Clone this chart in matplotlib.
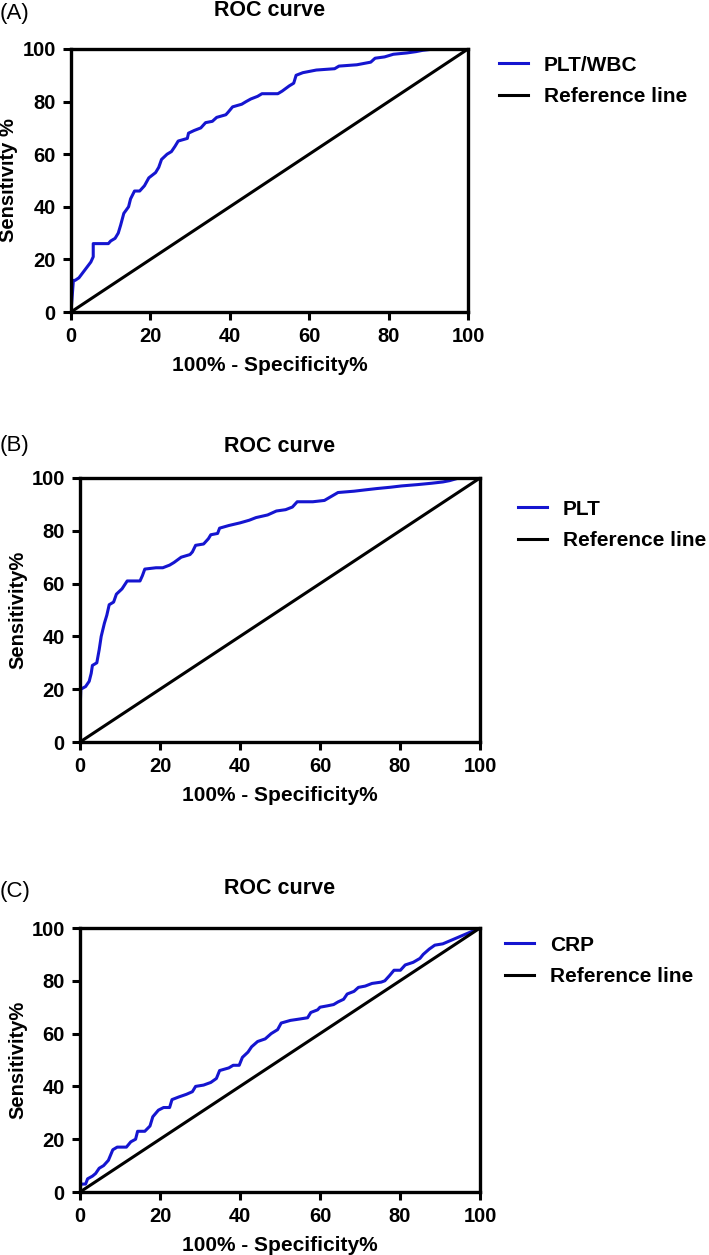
import matplotlib
matplotlib.use("Agg")
import matplotlib.pyplot as plt

# ROC data (x = 100% - specificity, y = sensitivity)
plt_wbc_x = [0, 0.3, 0.6, 1, 2, 3, 4, 5, 5.6, 5.6, 9.4, 10, 11.1, 11.9, 12.5, 13.3, 14.5, 15, 16,
             17.3, 18.5, 19.6, 21.3, 22.1, 22.8, 24.2, 25.3, 26.2, 27, 29.3, 29.6, 31, 32.7,
             33.9, 35.6, 36.7, 39, 39.6, 40.7, 43, 44.1, 45.3, 47, 48.1, 52.1, 53.2, 55, 56.1,
             56.7, 58.4, 61.8, 66.4, 67.5, 72, 75.5, 76.6, 79, 81.2, 84.6, 86.9, 88.6, 91.4, 100]
plt_wbc_y = [0, 6, 12, 12, 13, 15, 17, 19, 21, 26, 26, 27, 28, 30, 33, 37.5, 40, 43, 46,
             46, 48, 51, 53, 55, 58, 60, 61, 63, 65, 66, 68, 69, 70,
             72, 72.5, 74, 75, 76, 78, 79, 80, 81, 82, 83, 83, 84, 86, 87,
             90, 91, 92, 92.5, 93.5, 94, 95, 96.5, 97, 98, 98.5, 99, 99.5, 100, 100]

plt_x = [0, 0, 0.2, 1.4, 2.3, 2.8, 3.1, 4.2, 4.8, 5.3, 6.1, 6.7, 7.3, 8.4, 9.1, 10.5, 11.8, 15,
         15.6, 16.2, 19, 20.7, 22.4, 23.5, 25.3, 27.5, 28.1, 28.9, 30.9, 32.1, 32.7, 34.4,
         34.9, 37.2, 40, 42.3, 44, 46.9, 49.1, 51.4, 53.1, 54.3, 58.2, 61.1, 62.8, 64.5, 68.5,
         71.3, 74.2, 77.6, 80.4, 84.4, 87.8, 90.7, 92.4, 94.7, 100]
plt_y = [0, 11, 20, 21, 23, 26, 29, 30, 35, 40, 45, 48, 52, 53, 56, 58, 61, 61,
         63, 65.5, 66, 66, 67, 68, 70, 71, 72, 74.5, 75, 77, 78.5, 79,
         81, 82, 83, 84, 85, 86, 87.5, 88, 89, 91, 91, 91.5, 93, 94.5, 95,
         95.5, 96, 96.5, 97, 97.5, 98, 98.5, 99, 100, 100]

crp_x = [0, 0.2, 1.4, 1.9, 3.1, 3.9, 4.8, 5.9, 7.1, 8.2, 9.3, 11.6, 12.7, 13.9, 14.4, 16.2, 17.5,
         18.2, 19.6, 20.9, 22.4, 23, 24.7, 26.6, 28.1, 28.9, 30.9, 32.7, 34.1, 34.9, 37.2, 38.3,
         39.8, 40.6, 42, 42.9, 44.4, 46.3, 47.8, 49.4, 50.3, 52.6, 54.8, 56.9, 57.7, 59.4, 60,
         61.8, 63.4, 64.5, 65.9, 66.8, 68.5, 69.6, 71.3, 73, 75.3, 76.2, 77.4, 78.5, 80.1, 81.3,
         83.3, 85, 85.8, 87.3, 88.7, 90.7, 100]
crp_y = [0, 3, 3, 5, 6, 7, 9, 10, 12, 16, 17, 17, 19, 20, 23, 23, 25,
         28.5, 31, 32, 32, 35, 36, 37, 38, 40, 40.5, 41.5, 43, 46, 47, 48,
         48, 51, 53, 55, 57, 58, 60, 61.5, 64, 65, 65.5, 66, 68, 69, 70,
         70.5, 71, 72, 73, 75, 76, 77.5, 78, 79, 79.5, 80, 82, 84, 84, 86,
         87, 88.5, 90, 92, 93.5, 94, 100]

ref_x = [0, 100]
ref_y = [0, 100]

panels = [
    ("(A)", "PLT/WBC", plt_wbc_x, plt_wbc_y, "Sensitivity %"),
    ("(B)", "PLT", plt_x, plt_y, "Sensitivity%"),
    ("(C)", "CRP", crp_x, crp_y, "Sensitivity%"),
]
ticks = [0, 20, 40, 60, 80, 100]

font = ["Liberation Sans", "DejaVu Sans"]

W, H = 709, 1255
fig = plt.figure(figsize=(W / 100, H / 100), dpi=100)

# layout in pixels
boxes = [(71, 49, 468, 312), (80, 478, 480, 742), (80, 928, 480, 1192)]
tag_y = [13, 445, 892]
title_y = [10, 446, 888]
legend_pos = [(499, 65), (518, 509), (505, 945)]

for (tag, name, xs, ys, ylab), (l, t, r, b), ty, tly, (lx, lgy) in zip(
        panels, boxes, tag_y, title_y, legend_pos):
    ax = fig.add_axes([l / W, 1 - b / H, (r - l) / W, (b - t) / H])
    ax.plot(xs, ys, color="#1515d0", lw=2.2, label=name)
    ax.plot(ref_x, ref_y, color="black", lw=2.2, label="Reference line")
    ax.set_xlim(0, 100)
    ax.set_ylim(0, 100)
    ax.set_xticks(ticks)
    ax.set_yticks(ticks)
    for s in ax.spines.values():
        s.set_linewidth(2.4)
    ax.tick_params(width=2.2, length=6, direction="out", pad=5)
    for lab in ax.get_xticklabels() + ax.get_yticklabels():
        lab.set_family(font)
        lab.set_fontsize(14.5)
        lab.set_fontweight("bold")
    ax.set_xlabel("100% - Specificity%", family=font, fontsize=15, fontweight="bold", labelpad=7)
    ax.set_ylabel(ylab, family=font, fontsize=14.5, fontweight="bold", labelpad=3)
    fig.text((l + r) / 2 / W, 1 - tly / H, "ROC curve", family=font, fontsize=15.5,
             fontweight="bold", ha="center", va="center")
    fig.text(0, 1 - ty / H, tag, family=font, fontsize=16, va="center", ha="left")
    ax.legend(loc="center left",
              bbox_to_anchor=((lx - l) / (r - l), 1 - ((lgy + 16) - t) / (b - t)),
              frameon=False, handlelength=1.4, handletextpad=0.75, labelspacing=0.6,
              borderaxespad=0, borderpad=0, prop={"family": font, "size": 15, "weight": "bold"})

fig.savefig("out.png", dpi=100)
